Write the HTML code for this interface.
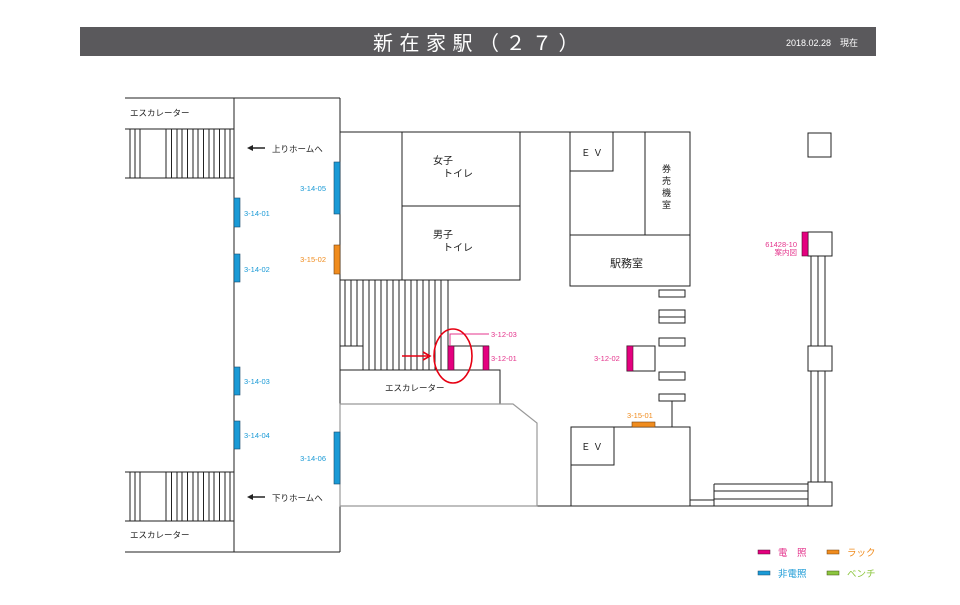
<!DOCTYPE html>
<html><head><meta charset="utf-8"><style>
html,body{margin:0;padding:0;background:#fff;}
svg{display:block;font-family:"Liberation Sans","Noto Sans CJK JP",sans-serif;}
</style></head><body>
<svg width="960" height="605" viewBox="0 0 960 605" xmlns="http://www.w3.org/2000/svg">
<rect x="80" y="27" width="796" height="29" fill="#5a595c"/>
<text x="373" y="50" fill="#fff" font-size="20" letter-spacing="6.5">新在家駅（２７）</text>
<text x="786" y="46" fill="#fff" font-size="9">2018.02.28　現在</text>

<g stroke="#222" stroke-width="1" fill="none">
<!-- left block -->
<line x1="125" y1="98" x2="340" y2="98"/>
<line x1="125" y1="552" x2="340" y2="552"/>
<line x1="234" y1="98" x2="234" y2="552"/>
<line x1="340" y1="98" x2="340" y2="404"/>
<line x1="340" y1="506" x2="340" y2="552"/>
<line x1="125" y1="129" x2="234" y2="129"/>
<line x1="125" y1="178" x2="234" y2="178"/>
<line x1="125" y1="472" x2="234" y2="472"/>
<line x1="125" y1="521" x2="234" y2="521"/>
<path d="M130 129V178M135 129V178M140 129V178M166 129V178M171.5 129V178M177 129V178M182 129V178M187.5 129V178M193 129V178M198 129V178M203.5 129V178M209 129V178M214 129V178M219.5 129V178M225 129V178M230 129V178"/>
<path d="M130 472V521M135 472V521M140 472V521M166 472V521M171.5 472V521M177 472V521M182 472V521M187.5 472V521M193 472V521M198 472V521M203.5 472V521M209 472V521M214 472V521M219.5 472V521M225 472V521M230 472V521"/>
<!-- center -->
<line x1="340" y1="132" x2="690" y2="132"/>
<rect x="402" y="132" width="118" height="74"/>
<rect x="402" y="206" width="118" height="74"/>
<line x1="340" y1="280" x2="448" y2="280"/>
<path d="M345 280V346M351 280V346M357 280V346M363 280V370M369 280V370M375 280V370M381 280V370M387 280V370M393 280V370M399 280V370M405 280V370M411 280V370M417 280V370M423 280V370M429 280V370M435 280V370M441 280V370M448 280V370"/>
<line x1="340" y1="346" x2="363" y2="346"/>
<rect x="340" y="370" width="160" height="34"/>
<line x1="448" y1="346" x2="489" y2="346"/>
<!-- right -->
<rect x="570" y="132" width="120" height="154"/>
<rect x="570" y="132" width="43" height="39"/>
<line x1="645" y1="132" x2="645" y2="235"/>
<line x1="570" y1="235" x2="690" y2="235"/>
<rect x="659" y="290" width="26" height="7"/>
<rect x="659" y="310" width="26" height="13"/>
<line x1="659" y1="317" x2="685" y2="317"/>
<rect x="659" y="338" width="26" height="8"/>
<rect x="659" y="372" width="26" height="8"/>
<rect x="659" y="394" width="26" height="7"/>
<line x1="672" y1="401" x2="672" y2="427"/>
<rect x="627" y="346" width="28" height="25"/>
<rect x="571" y="427" width="119" height="79"/>
<rect x="571" y="427" width="43" height="38"/>
<line x1="537" y1="506" x2="832" y2="506"/>
<line x1="690" y1="500" x2="714" y2="500"/>
<line x1="714" y1="484" x2="808" y2="484"/>
<line x1="714" y1="491" x2="808" y2="491"/>
<line x1="714" y1="499" x2="808" y2="499"/>
<line x1="714" y1="484" x2="714" y2="506"/>
<rect x="808" y="482" width="24" height="24"/>
<rect x="808" y="346" width="24" height="25"/>
<rect x="808" y="232" width="24" height="24"/>
<rect x="808" y="133" width="23" height="24"/>
<path d="M811 256V346M818 256V346M825 256V346M811 371V482M818 371V482M825 371V482"/>
</g>
<path d="M340 404H513L537 423V506H340Z" fill="none" stroke="#999" stroke-width="1.2"/>

<!-- signs -->
<g fill="#1a9ad6" stroke="#1a4a6a" stroke-width="0.6">
<rect x="234" y="198" width="6" height="29"/>
<rect x="234" y="254" width="6" height="28"/>
<rect x="234" y="367" width="6" height="28"/>
<rect x="234" y="421" width="6" height="28"/>
<rect x="334" y="162" width="6" height="52"/>
<rect x="334" y="432" width="6" height="52"/>
</g>
<rect x="334" y="245" width="6" height="29" fill="#f08c1e" stroke="#704010" stroke-width="0.6"/>
<rect x="632" y="422" width="23" height="5" fill="#f08c1e" stroke="#704010" stroke-width="0.6"/>
<g fill="#e4007f" stroke="#501030" stroke-width="0.6">
<rect x="448" y="346" width="6" height="24"/>
<rect x="483" y="346" width="6" height="24"/>
<rect x="627" y="346" width="6" height="25"/>
<rect x="802" y="232" width="6" height="24"/>
</g>
<path d="M450 346V334H489" fill="none" stroke="#e4348c" stroke-width="1"/>
<ellipse cx="453" cy="356" rx="19" ry="27" fill="none" stroke="#e60012" stroke-width="1.6"/>
<line x1="402" y1="356" x2="428" y2="356" stroke="#e60012" stroke-width="1.6"/>
<path d="M423 352L430 356L423 360" fill="none" stroke="#e60012" stroke-width="1.6"/>

<!-- arrows -->
<g stroke="#222" stroke-width="1.5"><line x1="250" y1="148" x2="265" y2="148"/><line x1="250" y1="497" x2="265" y2="497"/></g>
<path d="M247 148L253 145V151Z M247 497L253 494V500Z" fill="#222"/>

<g font-size="8.5" fill="#222">
<text x="130" y="116">エスカレーター</text>
<text x="130" y="538">エスカレーター</text>
<text x="272" y="152">上りホームへ</text>
<text x="272" y="501">下りホームへ</text>
<text x="385" y="391">エスカレーター</text>
</g>
<g font-size="10" fill="#222">
<text x="433" y="164">女子</text><text x="443" y="177">トイレ</text>
<text x="433" y="238">男子</text><text x="443" y="251">トイレ</text>
<text x="581" y="156" font-size="9.5">Ｅ Ｖ</text>
<text x="581" y="450" font-size="9.5">Ｅ Ｖ</text>
<text x="610" y="267" font-size="11">駅務室</text>
<text x="662" y="172" font-size="9">券</text>
<text x="662" y="184" font-size="9">売</text>
<text x="662" y="196" font-size="9">機</text>
<text x="662" y="208" font-size="9">室</text>
</g>
<g font-size="7.5" fill="#1a9ad6">
<text x="244" y="216">3-14-01</text>
<text x="244" y="272">3-14-02</text>
<text x="244" y="384">3-14-03</text>
<text x="244" y="438">3-14-04</text>
<text x="326" y="191" text-anchor="end">3-14-05</text>
<text x="326" y="461" text-anchor="end">3-14-06</text>
</g>
<g font-size="7.5" fill="#f08c1e">
<text x="326" y="262" text-anchor="end">3-15-02</text>
<text x="627" y="418">3-15-01</text>
</g>
<g font-size="7.5" fill="#e4348c">
<text x="491" y="337">3-12-03</text>
<text x="491" y="361">3-12-01</text>
<text x="594" y="361">3-12-02</text>
<text x="797" y="247" text-anchor="end">61428-10</text>
<text x="797" y="255" text-anchor="end">案内図</text>
</g>
<!-- legend -->
<rect x="758" y="550" width="12" height="4" fill="#e4007f" stroke="#501030" stroke-width="0.5"/>
<rect x="827" y="550" width="12" height="4" fill="#f08c1e" stroke="#704010" stroke-width="0.5"/>
<rect x="758" y="571" width="12" height="4" fill="#1a9ad6" stroke="#1a4a6a" stroke-width="0.5"/>
<rect x="827" y="571" width="12" height="4" fill="#8cc63f" stroke="#405010" stroke-width="0.5"/>
<g font-size="9.5">
<text x="778" y="556" fill="#e4348c">電　照</text>
<text x="847" y="556" fill="#f08c1e">ラック</text>
<text x="778" y="577" fill="#1a9ad6">非電照</text>
<text x="847" y="577" fill="#8cc63f">ベンチ</text>
</g>
</svg>
</body></html>
